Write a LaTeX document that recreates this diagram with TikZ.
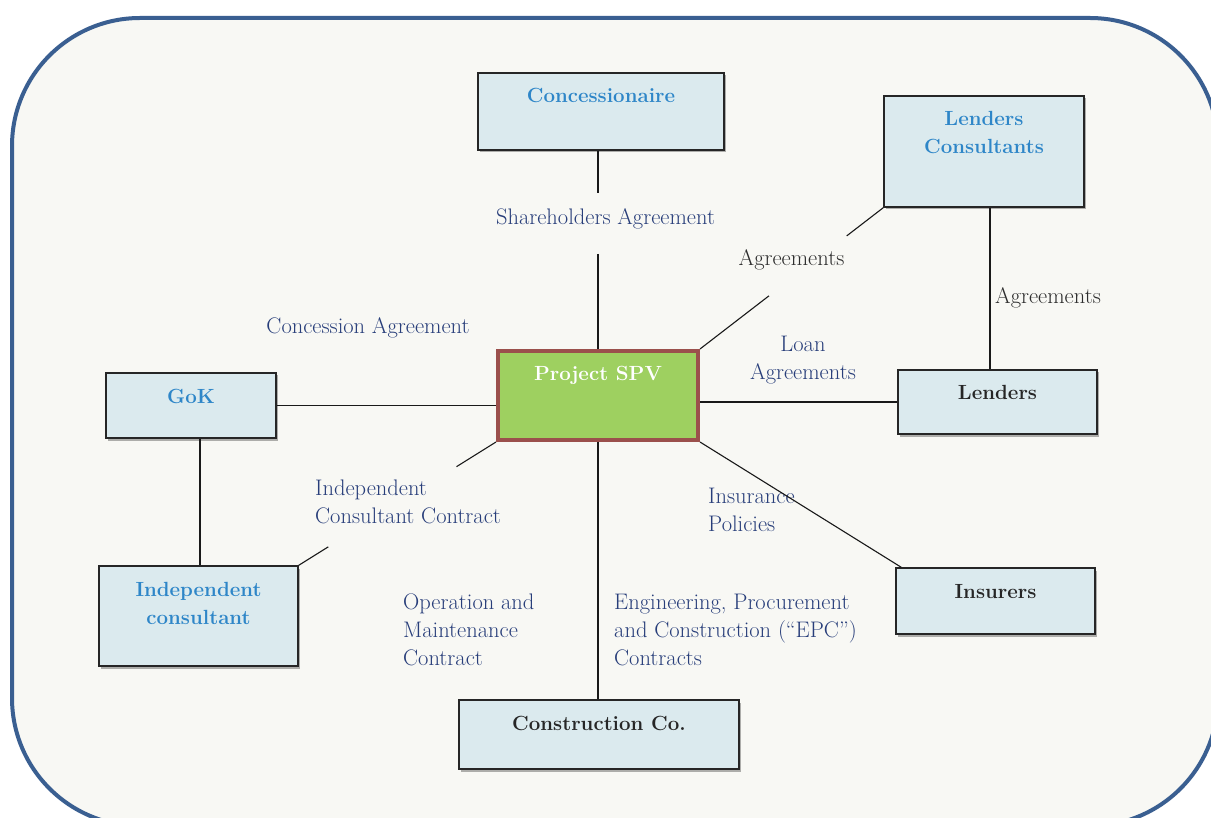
\documentclass[tikz,border=0pt]{standalone}
\usetikzlibrary{shadows,calc}
\definecolor{bgfill}{RGB}{248,248,244}
\definecolor{frameblue}{RGB}{58,95,145}
\definecolor{boxfill}{RGB}{219,234,238}
\definecolor{boxblue}{RGB}{46,134,200}
\definecolor{lblblue}{RGB}{40,62,122}
\definecolor{lblgray}{RGB}{45,45,45}
\definecolor{spvfill}{RGB}{158,208,96}
\definecolor{spvborder}{RGB}{155,80,76}
\newcommand\mybox[3]{\parbox[c][#2pt][t]{#1pt}{\centering\vspace*{10.4pt}\strut #3}}
\begin{document}
\begin{tikzpicture}[x=1pt,y=-1pt,
  every node/.style={font=\fontsize{22.5}{28}\selectfont},
  box/.style={draw=black!85, line width=1.3pt, fill=boxfill, inner sep=0pt,
    drop shadow={shadow xshift=1.5pt, shadow yshift=-2.5pt, fill=black, opacity=0.3}},
  bluetext/.style={text=boxblue, font=\fontsize{20.5}{28}\selectfont\bfseries},
  blacktext/.style={text=black!85, font=\fontsize{20.5}{28}\selectfont\bfseries},
  spvbox/.style={draw=spvborder, line width=4pt, fill=spvfill, inner sep=0pt, text=white,
    font=\fontsize{20.5}{28}\selectfont\bfseries},
  conn/.style={draw=black!90, line width=1.1pt},
  lbl/.style={inner sep=0pt, text=lblblue},
  glbl/.style={inner sep=0pt, text=lblgray}]
\useasboundingbox (0,0) rectangle (1211,818);
\clip (0,0) rectangle (1211,818);
\fill[white] (0,0) rectangle (1211,818);
\draw[frameblue, line width=4pt, fill=bgfill, rounded corners=128pt] (12,18) rectangle (1218,826);

% boxes
\node[box, bluetext] (conc) at (601,111.5) {\mybox{246}{77}{Concessionaire}};
\node[box, bluetext] (lcons) at (984,151.5) {\mybox{200}{111}{Lenders\\Consultants}};
\node[box, bluetext] (gok) at (191,405.5) {\mybox{170}{65}{GoK}};
\node[spvbox] (spv) at (598,395.5) {\mybox{200}{89}{Project SPV}};
\node[box, blacktext] (lenders) at (997.5,402) {\mybox{199}{64}{Lenders}};
\node[box, bluetext] (indc) at (198.5,616) {\mybox{199}{100}{Independent\\consultant}};
\node[box, blacktext] (ins) at (995.5,601) {\mybox{199}{66}{Insurers}};
\node[box, blacktext] (cons) at (599,734.5) {\mybox{280}{69}{Construction Co.}};

% labels
\node[lbl, anchor=north] (shl) at (605.5,204.4) {\strut Shareholders Agreement};
\node[lbl, anchor=north] (cal) at (368,313.4) {\strut Concession Agreement};
\node[glbl, anchor=north] (ag1) at (791.5,245.4) {\strut Agreements};
\node[glbl, anchor=north] (ag2) at (1048,283.4) {\strut Agreements};
\node[lbl, anchor=north, align=center] (loan) at (803,331.4) {\strut Loan\\Agreements};
\node[lbl, anchor=north west, align=left] (insl) at (708,483.4) {\strut Insurance\\Policies};
\node[lbl, anchor=north west, align=left] (icc) at (315,475.4) {\strut Independent\\Consultant Contract};
\node[lbl, anchor=north west, align=left] (om) at (403,589.4) {\strut Operation and\\Maintenance\\Contract};
\node[lbl, anchor=north west, align=left] (epc) at (614,589.4) {\strut Engineering, Procurement\\and Construction (``EPC'')\\Contracts};

% connector gap ends
\coordinate (shA) at (598,193);
\coordinate (shB) at (598,254);
\coordinate (lcA) at ($(lcons.south west)!0.2!(spv.north east)$);
\coordinate (lcB) at ($(lcons.south west)!0.624!(spv.north east)$);
\coordinate (icA) at ($(spv.south west)!0.2!(indc.north east)$);
\coordinate (icB) at ($(spv.south west)!0.85!(indc.north east)$);

% connectors
\draw[conn] (conc.south -| spv.north) -- (shA);
\draw[conn] (shB) -- (spv.north);
\draw[conn] (lcons.south west) -- (lcA);
\draw[conn] (lcB) -- (spv.north east);
\draw[conn] ([xshift=6pt]lcons.south) -- ([xshift=6pt]lcons.south |- lenders.north);
\draw[conn] (gok.east) -- (gok.east -| spv.west);
\draw[conn] (spv.east |- lenders.west) -- (lenders.west);
\draw[conn] (spv.south east) -- ([xshift=6pt]ins.north west);
\draw[conn] (spv.south west) -- (icA);
\draw[conn] (icB) -- (indc.north east);
\draw[conn] ([xshift=1.5pt]indc.north |- gok.south) -- ([xshift=1.5pt]indc.north);
\draw[conn] (spv.south) -- (spv.south |- cons.north);
\end{tikzpicture}
\end{document}
